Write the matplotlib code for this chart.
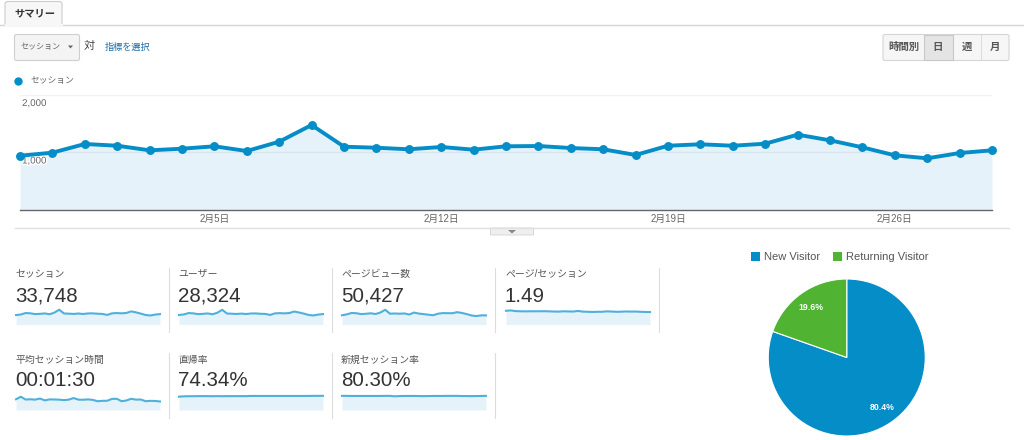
import matplotlib

matplotlib.use("Agg")
import matplotlib.pyplot as plt
import matplotlib.patheffects as pe
from matplotlib.patches import FancyBboxPatch, Rectangle, Polygon
from matplotlib.transforms import ScaledTranslation

plt.rcParams["font.family"] = ["Liberation Sans", "Noto Sans CJK JP", "DejaVu Sans"]

W, H = 1024, 440

# daily sessions, 31 days from Jan 30
sessions = [944, 997, 1148, 1118, 1038, 1066, 1108, 1026, 1188, 1478, 1101,
            1083, 1056, 1096, 1049, 1108, 1113, 1078, 1056, 957, 1118, 1143,
            1118, 1153, 1310, 1212, 1090, 951, 899, 991, 1038]
tick_idx = [6, 13, 20, 27]
tick_labels = ["2月5日", "2月12日", "2月19日", "2月26日"]

# sparklines
users = [800, 845, 960, 935, 870, 895, 930, 860, 990, 1235, 920, 905, 885, 915,
         880, 925, 930, 900, 885, 805, 935, 955, 935, 965, 1090, 1010, 915, 800,
         760, 835, 875]
pageviews = [1380, 1520, 1730, 1690, 1560, 1610, 1680, 1570, 1800, 2210, 1620,
             1650, 1620, 1660, 1500, 1790, 1640, 1560, 1470, 1390, 1620, 1710,
             1700, 1690, 1850, 1730, 1560, 1350, 1270, 1370, 1370]
pages_per = [1.62, 1.66, 1.58, 1.56, 1.55, 1.56, 1.56, 1.56, 1.57, 1.55, 1.53,
             1.52, 1.56, 1.54, 1.53, 1.60, 1.52, 1.50, 1.48, 1.50, 1.50, 1.55,
             1.53, 1.50, 1.51, 1.54, 1.52, 1.53, 1.50, 1.48, 1.47]
avg_time = [88, 109, 86, 88, 85, 94, 79, 87, 86, 85, 81, 85, 98, 85, 84, 87, 83,
            72, 75, 76, 91, 92, 72, 78, 92, 85, 86, 72, 75, 74, 70]
bounce = [71, 73, 73.5, 73.5, 74, 74, 74, 73.5, 74, 73.5, 74, 74, 74, 74, 74, 75,
          75, 75, 75, 75, 75, 75, 75, 75, 75, 75, 75, 75, 75.5, 75.5, 75.5]
new_rate = [81, 81, 80.5, 80.5, 80.5, 80.5, 80.5, 80.5, 80.5, 81, 81, 78.5, 80,
            80.5, 80.5, 80.5, 80, 79.5, 80, 80.5, 80.5, 80.5, 81, 81, 81, 80, 80,
            79.5, 80, 80.5, 81]

kpi_names = ["セッション", "ユーザー", "ページビュー数", "ページ/セッション",
             "平均セッション時間", "直帰率", "新規セッション率"]
kpi_values = ["33,748", "28,324", "50,427", "1.49", "00:01:30", "74.34%", "80.30%"]
kpi_series = [sessions, users, pageviews, pages_per, avg_time, bounce, new_rate]
kpi_ymax = [1500, 1260, 2250, 1.77, 123, 80, 86]

pie_labels = ["New Visitor", "Returning Visitor"]
pie_values = [80.4, 19.6]

BLUE = "#058dc7"
GREEN = "#50b432"
FILL = "#e6f2f9"


def px_axes(x0, y0, x1, y1, z=1):
    # axes from pixel box, y counted from the top
    ax = fig.add_axes([x0 / W, 1 - y1 / H, (x1 - x0) / W, (y1 - y0) / H], zorder=z)
    return ax


fig = plt.figure(figsize=(W / 100, H / 100), dpi=100)

# page furniture in pixel coordinates
bg = px_axes(0, 0, W, H, z=0)
bg.set_xlim(0, W)
bg.set_ylim(H, 0)
bg.axis("off")

bg.plot([0, W], [25, 25], color="#d5d5d5", lw=1)
bg.add_patch(Polygon([(5, 25), (5, 3), (7, 1.5), (60, 1.5), (62, 3), (62, 25)],
                     facecolor="#f7f7f7", edgecolor="#cccccc", lw=0.8))
bg.plot([5.5, 61.5], [25, 25], color="#f7f7f7", lw=1.5)
bg.text(34.5, 13.5, "サマリー", fontsize=7.4, fontweight="bold", color="#333333",
        ha="center", va="center")

bg.add_patch(FancyBboxPatch((14.5, 34.5), 65, 26, boxstyle="round,pad=0,rounding_size=2",
                            facecolor="#f4f4f4", edgecolor="#cfcfcf", lw=0.8))
bg.text(21, 47.5, "セッション", fontsize=5.8, color="#666666", va="center")
bg.add_patch(Polygon([(68, 45.5), (73, 45.5), (70.5, 48.5)], facecolor="#666666", edgecolor="none"))
bg.text(84, 46, "対", fontsize=8, color="#444444", va="center")
bg.text(105, 47, "指標を選択", fontsize=6.6, color="#1f6ea8", va="center")

# day/week/month buttons
bg.add_patch(FancyBboxPatch((883, 34.5), 126, 26, boxstyle="round,pad=0,rounding_size=2",
                            facecolor="#f6f6f6", edgecolor="#d5d5d5", lw=0.8))
bg.add_patch(Rectangle((924, 35), 29, 25, facecolor="#e4e4e4", edgecolor="#c8c8c8", lw=0.8))
bg.plot([981, 981], [35, 60], color="#dddddd", lw=0.8)
for bx, label in zip([904, 938, 966.5, 995], ["時間別", "日", "週", "月"]):
    bg.text(bx, 47, label, fontsize=7.5, fontweight="bold", color="#555555",
            ha="center", va="center")

# legend of the line chart
bg.plot([18], [81], "o", color=BLUE, ms=5)
bg.text(30, 81, "セッション", fontsize=6.3, color="#666666", va="center")

# rule under the main chart with its small handle
bg.plot([15, 1009], [228, 228], color="#e0e0e0", lw=1)
bg.add_patch(FancyBboxPatch((490.5, 228), 43, 7, boxstyle="round,pad=0,rounding_size=1",
                            facecolor="#efefef", edgecolor="#d8d8d8", lw=0.7))
bg.add_patch(Polygon([(508, 230), (516, 230), (512, 233.5)], facecolor="#888888", edgecolor="none"))

# main line chart
ax = px_axes(20, 95, 992, 210, z=2)
ax.patch.set_alpha(0)
days = list(range(len(sessions)))
ax.fill_between(days, sessions, 0, color=FILL, lw=0, zorder=0)
ax.plot(days, sessions, color=BLUE, lw=2.8, marker="o", ms=5.4, clip_on=False, zorder=3)
ax.set_xlim(0, 30)
ax.set_ylim(0, 2000)
ax.set_yticks([1000, 2000])
ax.set_yticklabels(["1,000", "2,000"])
ax.set_xticks(tick_idx)
ax.set_xticklabels(tick_labels)
ax.grid(axis="y", color="#000000", alpha=0.05, lw=1)
ax.set_axisbelow(True)
for name in ["top", "left", "right"]:
    ax.spines[name].set_visible(False)
ax.spines["bottom"].set_color("#666666")
ax.spines["bottom"].set_linewidth(1)
ax.tick_params(axis="x", length=0, pad=3, labelsize=7, labelcolor="#666666")
ax.tick_params(axis="y", length=0, pad=-1.5, labelsize=7, labelcolor="#666666")
shift = ScaledTranslation(0, -3 / 100, fig.dpi_scale_trans)
for lab in ax.get_yticklabels():
    lab.set_ha("left")
    lab.set_va("top")
    lab.set_transform(lab.get_transform() + shift)
    lab.set_path_effects([pe.withStroke(linewidth=2, foreground="white")])

# KPI tiles
col_x = [15, 178, 341, 505]
row_y = [(274, 296, 309.5, 324.5, 268, 332), (360, 381, 395, 410, 353, 418)]
for i in range(len(kpi_names)):
    row = 0 if i < 4 else 1
    x = col_x[i if i < 4 else i - 4]
    ly, vy, top, bottom, d0, d1 = row_y[row]
    bg.text(x, ly, kpi_names[i], fontsize=7.1, color="#555555", va="center")
    bg.text(x, vy, kpi_values[i], fontsize=14.8, color="#333333", va="center")
    bg.plot([x + 153.5, x + 153.5], [d0, d1], color="#dddddd", lw=0.8)
    sp = px_axes(x + 1, top, x + 145, bottom, z=2)
    vals = kpi_series[i]
    sp.fill_between(range(len(vals)), vals, 0, color=FILL, lw=0)
    sp.plot(range(len(vals)), vals, color="#4fb0dc", lw=1.5, clip_on=False)
    sp.set_xlim(0, len(vals) - 1)
    sp.set_ylim(0, kpi_ymax[i])
    sp.axis("off")

# pie
pax = px_axes(768, 279, 925.5, 436, z=2)
wedges, _, autotexts = pax.pie(pie_values, colors=[BLUE, GREEN], startangle=90,
                               counterclock=False, autopct="%.1f%%", pctdistance=0.78,
                               wedgeprops={"edgecolor": "white", "linewidth": 0.8})
for t in autotexts:
    t.set_color("white")
    t.set_fontsize(6.3)
    t.set_fontweight("bold")
pax.set_xlim(-1, 1)
pax.set_ylim(-1, 1)

# pie legend
for sx, tx, label, c in zip([751, 833], [764, 846], pie_labels, [BLUE, GREEN]):
    bg.add_patch(Rectangle((sx, 252.5), 9, 9, facecolor=c, edgecolor="none"))
    bg.text(tx, 257, label, fontsize=8, color="#555555", va="center")

fig.savefig("out.png", dpi=100)
